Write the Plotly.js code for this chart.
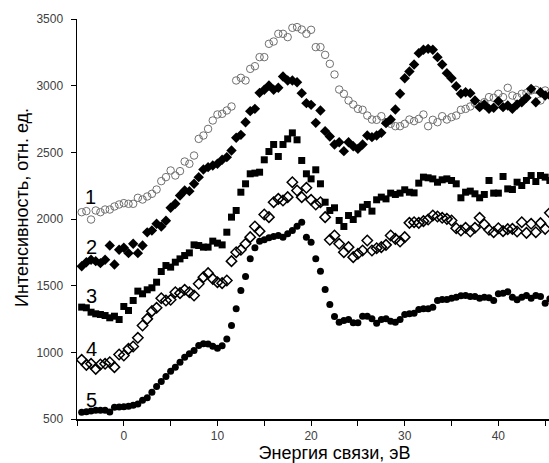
<!DOCTYPE html>
<html>
<head>
<meta charset="utf-8">
<script src="https://cdn.plot.ly/plotly-3.0.1.min.js"></script>
<style>
html,body{margin:0;padding:0;background:#fff;overflow:hidden;width:549px;height:463px;}
#chart{width:592px;height:463px;}
</style>
</head>
<body>
<div id="chart"></div>
<script>
// Binding energy, eV (common x grid)
const energy = [];
for (let i = 0; i <= 100; i++) energy.push(-4.5 + i * 0.5);

const series1 = [2051,2059,1996,2064,2051,2071,2071,2094,2109,2119,2114,2114,2159,2146,2169,2189,2221,2284,2314,2364,2326,2359,2431,2414,2476,2601,2626,2676,2739,2784,2789,2814,2844,3039,3059,3039,3126,3146,3214,3214,3314,3331,3389,3389,3364,3434,3439,3421,3389,3419,3289,3289,3231,3164,3084,2971,2939,2889,2859,2826,2819,2776,2746,2744,2771,2726,2714,2696,2696,2714,2746,2734,2751,2784,2696,2744,2726,2771,2746,2764,2776,2819,2826,2844,2869,2859,2876,2914,2909,2939,2914,2984,2926,2914,2939,2944,2964,2969,2889,2964,2944];
const series2 = [1646,1676,1694,1684,1669,1694,1801,1659,1769,1784,1744,1814,1744,1801,1900,1914,1964,1944,1987,2084,2114,2176,2214,2209,2264,2314,2371,2389,2401,2414,2444,2464,2514,2609,2631,2726,2809,2826,2946,2969,3001,2969,2984,3069,3039,3039,3026,2944,2869,2856,2721,2814,2659,2619,2559,2576,2509,2576,2546,2526,2559,2626,2614,2626,2646,2719,2746,2821,2939,3056,3106,3159,3244,3269,3276,3269,3214,3159,3094,3056,2996,2939,2951,2944,2889,2839,2859,2826,2834,2884,2839,2851,2826,2859,2876,2909,2976,2876,2951,2926,2926];
const series3 = [1339,1334,1301,1289,1284,1276,1259,1271,1246,1344,1314,1389,1459,1439,1469,1484,1526,1606,1651,1639,1676,1701,1726,1746,1806,1801,1789,1789,1834,1819,1806,1901,2014,2064,2201,2264,2339,2344,2351,2444,2506,2559,2469,2559,2601,2646,2594,2439,2339,2301,2369,2264,2126,2064,2084,1989,1944,2026,1996,2039,2089,2109,2059,2144,2164,2151,2194,2184,2194,2219,2201,2196,2269,2314,2309,2301,2276,2294,2301,2289,2264,2159,2201,2209,2189,2159,2184,2289,2194,2194,2319,2226,2221,2276,2251,2289,2326,2281,2326,2314,2289];
const series4 = [944,906,914,876,909,914,926,889,984,976,1026,1044,1109,1201,1251,1309,1334,1406,1389,1394,1451,1444,1469,1451,1426,1514,1564,1594,1551,1526,1519,1539,1684,1751,1769,1814,1864,1944,1909,2034,2014,2126,2151,2139,2164,2276,2214,2164,2234,2144,2109,2126,2014,1844,1876,1814,1751,1789,1714,1739,1764,1839,1764,1781,1789,1806,1876,1851,1831,1864,1971,1976,1971,1984,1996,2026,2019,2009,2001,1989,1931,1914,1934,1906,1934,2009,1959,1919,1901,1931,1909,1924,1926,1906,1976,1896,1964,1901,1969,1926,2046];
const series5 = [551,555,560,565,566,566,552,588,590,592,596,603,612,640,660,700,744,781,819,859,889,926,964,989,1014,1051,1064,1062,1045,1030,1050,1100,1201,1326,1464,1569,1701,1784,1834,1844,1859,1869,1876,1864,1889,1914,1945,1975,1864,1826,1701,1609,1471,1359,1269,1226,1239,1246,1221,1221,1271,1271,1251,1219,1246,1251,1234,1226,1246,1284,1289,1294,1321,1326,1326,1339,1389,1396,1396,1406,1414,1424,1426,1419,1419,1406,1414,1409,1389,1439,1444,1454,1414,1394,1414,1426,1406,1426,1419,1369,1401];

const curveLabels = ['1','2','3','4','5'];
const labelX = [-3.6,-3.4,-3.4,-3.4,-3.4];
const labelY = [2164,1789,1426,1026,644];

const allSeries = [series1, series2, series3, series4, series5];
const markerDefs = [
  {symbol:'circle-open', size:7.5, color:'#707070', line:{width:1, color:'#707070'}},
  {symbol:'diamond', size:8, color:'#000', line:{width:0}},
  {symbol:'square', size:7, color:'#000', line:{width:0}},
  {symbol:'diamond-open', size:8, color:'#000', line:{width:1.5, color:'#000'}},
  {symbol:'circle', size:7, color:'#000', line:{width:0}}
];

const traces = allSeries.map((s, i) => ({
  x: energy, y: s, type:'scatter', mode:'markers',
  name: curveLabels[i], marker: markerDefs[i], showlegend:false
}));

const annotations = curveLabels.map((t, i) => ({
  x: labelX[i], y: labelY[i], xref:'x', yref:'y', text:t, showarrow:false,
  font:{family:'Liberation Sans, Arial, sans-serif', size:20, color:'#000'}
}));
// y-axis title placed as a rotated annotation so its vertical centre matches the original
annotations.push({
  text:'Интенсивность, отн. ед.', xref:'paper', yref:'paper',
  x:-0.107, y:0.53, xanchor:'center', yanchor:'middle', textangle:-90, showarrow:false,
  font:{family:'Liberation Sans, Arial, sans-serif', size:18, color:'#000'}
});

const layout = {
  width:592, height:463,
  margin:{l:77, r:0, t:19, b:44, pad:0},
  paper_bgcolor:'#fff', plot_bgcolor:'#fff',
  font:{family:'Liberation Sans, Arial, sans-serif'},
  xaxis:{
    range:[-5,50], tickmode:'linear', tick0:0, dtick:10,
    ticks:'outside', ticklen:5, tickcolor:'#000', showgrid:false, zeroline:false,
    showline:true, linecolor:'#000', linewidth:1.5,
    minor:{dtick:5, tick0:0, ticks:'outside', ticklen:5, tickcolor:'#000', showgrid:false},
    tickfont:{size:12, color:'#404040'},
    title:{text:'Энергия связи, эВ', font:{size:18, color:'#000'}, standoff:4}
  },
  yaxis:{
    range:[500,3500], tickmode:'linear', tick0:500, dtick:500,
    ticks:'outside', ticklen:5, tickcolor:'#000', showgrid:false, zeroline:false,
    showline:true, linecolor:'#000', linewidth:1.5,
    tickfont:{size:12, color:'#404040'}, ticklabelstandoff:5
  },
  annotations: annotations
};

Plotly.newPlot('chart', traces, layout, {displayModeBar:false, staticPlot:true});
</script>
</body>
</html>
